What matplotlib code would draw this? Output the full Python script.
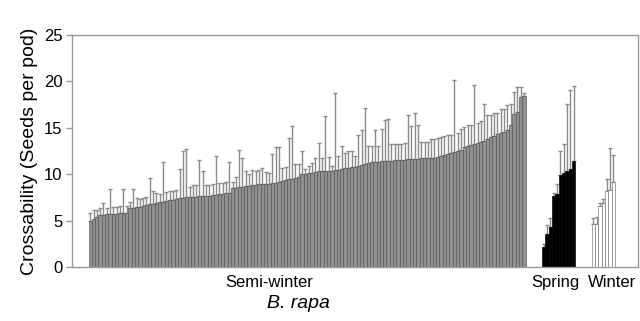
import matplotlib
matplotlib.use("Agg")
import matplotlib.pyplot as plt
import numpy as np

# seeds per pod, sorted within each group
semi_winter = [
    5.0, 5.2, 5.4, 5.6, 5.6, 5.7, 5.7, 5.7, 5.7, 5.8, 5.8, 5.8,
    6.4, 6.4, 6.5, 6.5, 6.6, 6.7,
    6.8, 6.8, 6.9, 7.0, 7.0,
    7.1, 7.2, 7.2, 7.3, 7.4,
    7.4, 7.5, 7.5, 7.6, 7.6,
    7.7, 7.7, 7.7, 7.7, 7.8, 7.8, 7.9, 7.9, 8.0, 8.0,
    8.5, 8.5, 8.6, 8.6, 8.7,
    8.7, 8.8, 8.8, 8.9, 8.9,
    9.0, 9.0, 9.1, 9.1, 9.2,
    9.3, 9.4, 9.5, 9.5, 9.6, 9.7,
    10.0, 10.0, 10.1, 10.1,
    10.2, 10.3, 10.3, 10.4, 10.4, 10.4,
    10.5, 10.5, 10.6, 10.7, 10.7,
    10.8, 10.8, 10.9, 11.0, 11.1,
    11.2, 11.3, 11.3, 11.3, 11.4,
    11.4, 11.4, 11.4, 11.5, 11.5,
    11.5, 11.5, 11.6, 11.6, 11.6,
    11.6, 11.7, 11.7, 11.8, 11.8,
    11.8, 11.9, 12.0, 12.1, 12.2,
    12.3, 12.4, 12.5, 12.6,
    12.9, 13.0, 13.2, 13.3, 13.4, 13.5,
    13.6, 13.8, 14.0, 14.1, 14.3,
    14.4, 14.6, 14.8, 15.3,
    16.5, 16.7, 18.3, 18.4,
]
# mean + SD (top of each error bar)
semi_winter_top = [
    5.8, 6.1, 6.2, 6.4, 6.9, 6.4, 8.4, 6.5, 6.5, 6.6, 8.4, 6.6,
    7.0, 8.4, 7.4, 7.3, 7.4, 7.5,
    9.6, 8.2, 8.0, 7.9, 11.3,
    8.1, 8.2, 8.2, 8.3, 10.6,
    12.5, 12.7, 8.6, 8.8, 8.8,
    11.5, 10.3, 8.8, 8.8, 9.0, 12.0, 9.1, 9.1, 9.2, 11.35,
    9.2, 9.7, 12.6, 11.7, 10.3,
    10.0, 10.45, 10.3, 10.5, 10.7,
    10.2, 10.1, 12.2, 12.9, 12.9,
    10.7, 10.8, 13.9, 15.2, 11.1, 11.1,
    12.5, 10.6, 10.9, 11.2,
    11.7, 13.4, 11.8, 16.3, 11.9, 10.9,
    18.7, 12.0, 13.0, 12.25, 12.5,
    12.5, 12.0, 14.2, 14.8, 17.1,
    13.0, 13.0, 14.8, 13.0, 14.9,
    15.8, 15.9, 13.3, 13.3, 13.3,
    13.3, 13.4, 16.4, 15.2, 16.6,
    15.3, 13.5, 13.5, 13.5, 13.75,
    13.75, 13.9, 14.0, 14.1, 14.2,
    14.2, 20.1, 14.4, 14.9,
    15.05, 15.3, 15.3, 19.6, 15.5, 15.7,
    17.6, 16.4, 16.4, 16.6, 16.6,
    17.0, 17.0, 17.5, 17.6,
    18.9, 19.4, 19.4, 18.8,
]
spring = [2.2, 3.6, 4.3, 7.7, 7.9, 9.9, 10.1, 10.4, 10.6, 11.4]
spring_top = [2.5, 4.5, 5.3, 8.0, 9.0, 12.5, 13.3, 17.6, 19.1, 19.5]
winter = [4.6, 4.6, 6.6, 6.9, 8.2, 8.3, 9.2]
winter_top = [5.3, 5.4, 6.9, 7.3, 9.5, 12.8, 12.1]

GAP_SPRING = 5
GAP_WINTER = 5

groups = [
    ("Semi-winter", semi_winter, semi_winter_top, "#909090", "#555555"),
    ("Spring", spring, spring_top, "black", "black"),
    ("Winter", winter, winter_top, "white", "#707070"),
]


def main():
    plt.rcParams["font.family"] = ["Liberation Sans", "DejaVu Sans"]
    fig = plt.figure(figsize=(6.4, 3.21), dpi=100)
    ax = fig.add_axes([0.1125, 0.168, 0.8845, 0.723])

    start = 0
    for k, (name, vals, tops, fc, ec) in enumerate(groups):
        x = np.arange(len(vals)) + start
        vals = np.array(vals)
        err = np.array(tops) - vals
        ax.errorbar(x, vals, yerr=[np.zeros_like(err), err], fmt="none",
                    ecolor="#8a8a8a", elinewidth=1.0, capsize=1.5,
                    capthick=1.0, zorder=1)
        ax.bar(x, vals, width=1.0, color=fc, edgecolor=ec, linewidth=0.45,
               zorder=2)
        start = x[-1] + 1 + (GAP_SPRING if k == 0 else GAP_WINTER)

    ax.set_xlim(-5.5, 165.5)
    ax.set_ylim(0, 25)
    ax.set_yticks([0, 5, 10, 15, 20, 25])
    ax.set_xticks([])
    ax.tick_params(axis="y", direction="out", length=4, width=1,
                   color="#999999", labelsize=12, pad=3)
    for s in ax.spines.values():
        s.set_color("#999999")
        s.set_linewidth(1.0)

    ax.set_ylabel("Crossability (Seeds per pod)", fontsize=14, labelpad=4)

    ytxt = -0.065
    tr = ax.get_xaxis_transform()
    ax.text(54, ytxt, "Semi-winter", fontsize=12, ha="center", va="center",
            transform=tr)
    ax.text(140.4, ytxt, "Spring", fontsize=12, ha="center", va="center",
            transform=tr)
    ax.text(157.6, ytxt, "Winter", fontsize=12, ha="center", va="center",
            transform=tr)
    fig.text(0.466, 1 - 303 / 321, "B. rapa", fontsize=14, style="italic",
             ha="center", va="center")

    fig.savefig("out.png", dpi=100)
    plt.close(fig)


if __name__ == "__main__":
    main()
